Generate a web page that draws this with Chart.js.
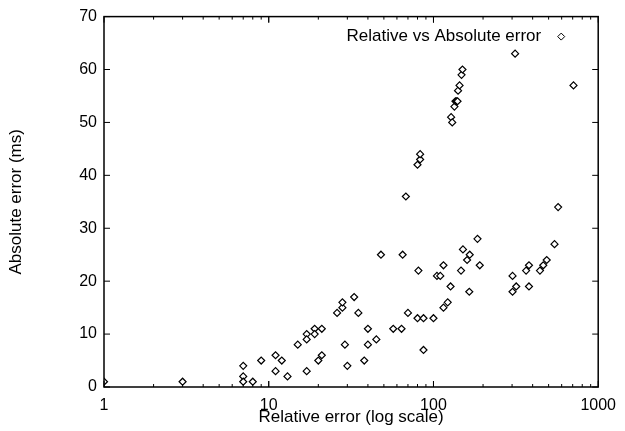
<!DOCTYPE html>
<html>
<head>
<meta charset="utf-8">
<script src="https://cdn.jsdelivr.net/npm/chart.js@4/dist/chart.umd.min.js"></script>
<style>
  html, body { margin: 0; padding: 0; background: #fff; }
  #wrap { width: 625px; height: 431px; }
</style>
</head>
<body>
<div id="wrap"><canvas id="c"></canvas></div>
<script>
// relative error (x, log) vs absolute error (y, ms)
const REL_ERR = [
  1, 3, 7, 7, 7, 8, 9, 11, 11, 12, 13, 15, 17, 17, 17, 19, 19, 20, 21, 21,
  26, 28, 28, 29, 30, 33, 35, 38, 40, 40, 45, 48, 57, 64, 65, 68, 70,
  80, 83, 83, 81, 80, 87, 87, 100, 105, 110, 115, 115, 122, 127,
  128, 130, 134, 136, 138, 140, 141, 144, 148, 150,
  147, 151, 160, 166, 165, 185, 191,
  302, 302, 318, 313, 365, 380, 380, 443, 464, 487, 543, 571, 708,
];
const ABS_ERR = [
  1, 1, 4, 2, 1, 1, 5, 6, 3, 5, 2, 8, 10, 9, 3, 11, 10, 5, 6, 11,
  14, 15, 16, 8, 4, 17, 14, 5, 11, 8, 9, 25, 11, 11, 25, 36, 14,
  42, 43, 44, 22, 13, 13, 7, 13, 21, 21, 15, 23, 16, 19,
  51, 50, 53, 54, 54, 54, 56, 57, 59, 60,
  22, 26, 24, 25, 18, 28, 23,
  18, 21, 19, 63, 22, 23, 19, 22, 23, 24, 27, 34, 57,
];
const X_TICKS = [1, 10, 100, 1000];
const Y_TICKS = [0, 10, 20, 30, 40, 50, 60, 70];
const SERIES_LABEL = "Relative vs Absolute error";

const FONT = "'Liberation Sans', Arial, sans-serif";
Chart.defaults.font.family = FONT;
Chart.defaults.font.size = 16;
Chart.defaults.color = "#000";

const POINT = { pointStyle: "rectRot", radius: 3.5, borderWidth: 1.2, borderColor: "#000", backgroundColor: "#fff" };

// frame + inward ticks (gnuplot look), minor log ticks on x
const framePlugin = {
  id: "frame",
  afterDatasetsDraw(chart) {
    const { ctx, chartArea: a, scales } = chart;
    ctx.save();
    ctx.strokeStyle = "#000";
    ctx.lineWidth = 1.5;
    ctx.strokeRect(a.left, a.top, a.right - a.left, a.bottom - a.top);
    ctx.lineWidth = 1;
    ctx.beginPath();
    Y_TICKS.forEach((v) => {
      const y = scales.y.getPixelForValue(v);
      ctx.moveTo(a.left, y); ctx.lineTo(a.left + 6, y);
      ctx.moveTo(a.right, y); ctx.lineTo(a.right - 6, y);
    });
    for (let d = 1; d < 1000; d *= 10) {
      for (let k = 1; k <= 10; k++) {
        const x = scales.x.getPixelForValue(d * k);
        const len = k === 1 || k === 10 ? 6 : 3;
        ctx.moveTo(x, a.bottom); ctx.lineTo(x, a.bottom - len);
        ctx.moveTo(x, a.top); ctx.lineTo(x, a.top + len);
      }
    }
    ctx.stroke();
    ctx.restore();
  },
};

// key in the top right corner: text, then sample marker to its right
const keyPlugin = {
  id: "key",
  afterDraw(chart) {
    const { ctx, chartArea: a } = chart;
    const y = a.top + 20;
    const sx = a.right - 37;
    ctx.save();
    ctx.font = `17px ${FONT}`;
    ctx.fillStyle = "#000";
    ctx.textAlign = "right";
    ctx.textBaseline = "middle";
    ctx.fillText(SERIES_LABEL, sx - 20, y);
    ctx.strokeStyle = POINT.borderColor;
    ctx.fillStyle = POINT.backgroundColor;
    Chart.helpers.drawPoint(ctx, { pointStyle: POINT.pointStyle, radius: POINT.radius, borderWidth: POINT.borderWidth, rotation: 0 }, sx, y);
    ctx.restore();
  },
};

new Chart(document.getElementById("c"), {
  type: "scatter",
  data: {
    datasets: [{
      label: SERIES_LABEL,
      data: REL_ERR.map((x, i) => ({ x, y: ABS_ERR[i] })),
      pointStyle: POINT.pointStyle,
      pointRadius: POINT.radius,
      pointBorderWidth: POINT.borderWidth,
      pointBorderColor: POINT.borderColor,
      pointBackgroundColor: POINT.backgroundColor,
    }],
  },
  options: {
    responsive: true,
    maintainAspectRatio: false,
    animation: false,
    layout: { padding: { left: 6, top: 14, right: 26, bottom: 3 } },
    plugins: { legend: { display: false }, tooltip: { enabled: false } },
    scales: {
      x: {
        type: "logarithmic",
        min: 1,
        max: 1000,
        afterBuildTicks: (s) => { s.ticks = X_TICKS.map((v) => ({ value: v })); },
        afterFit: (s) => { s.height = 41; },
        grid: { display: false, drawTicks: false },
        border: { display: false },
        ticks: { padding: 9, maxRotation: 0, autoSkip: false, callback: (v) => String(v) },
        title: { display: true, text: "Relative error (log scale)", font: { size: 17 }, padding: { top: 0, bottom: 0 } },
      },
      y: {
        min: 0,
        max: 70,
        afterBuildTicks: (s) => { s.ticks = Y_TICKS.map((v) => ({ value: v })); },
        afterFit: (s) => { s.width = 98; },
        grid: { display: false, drawTicks: false },
        border: { display: false },
        ticks: { padding: 7 },
        title: { display: true, text: "Absolute error (ms)", font: { size: 17 }, padding: { top: 0, bottom: 0 } },
      },
    },
  },
  plugins: [framePlugin, keyPlugin],
});
</script>
</body>
</html>
